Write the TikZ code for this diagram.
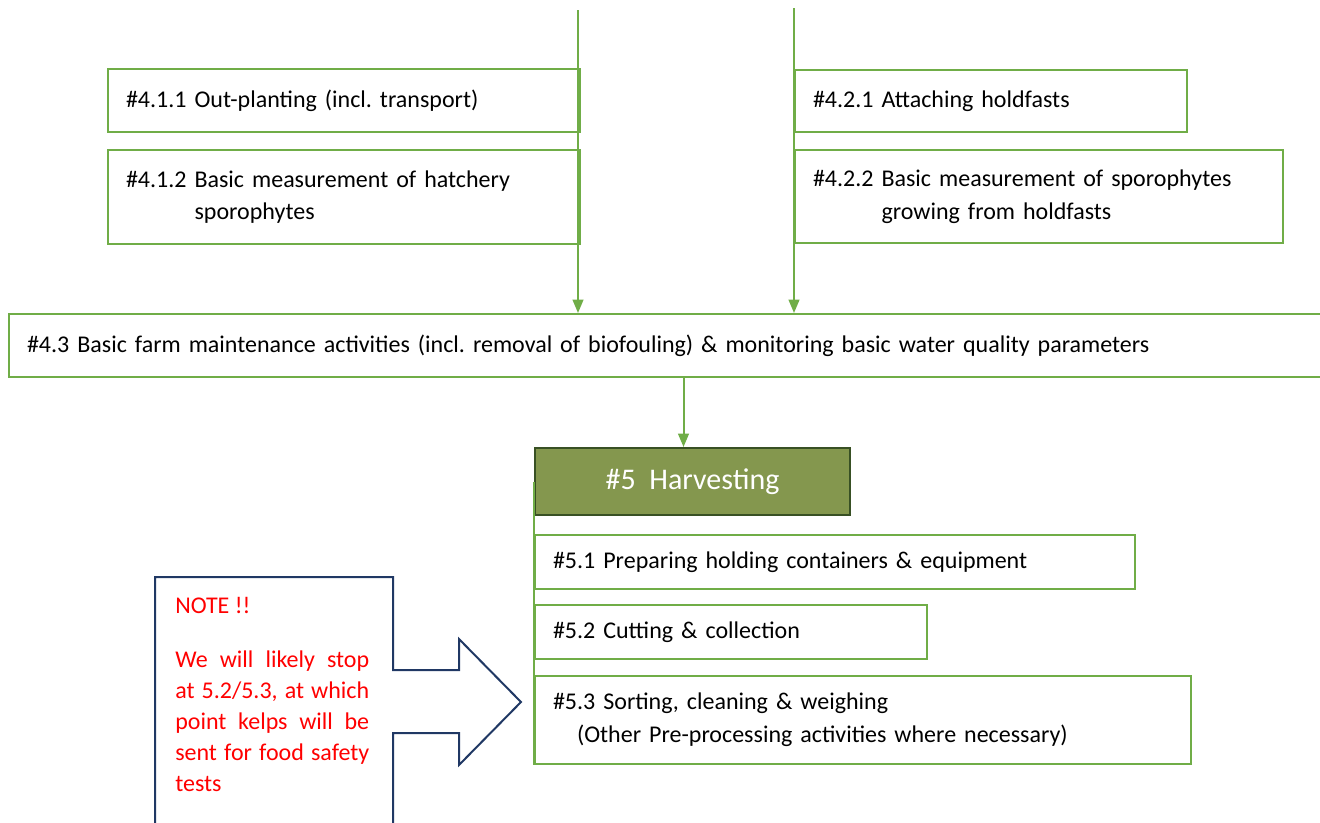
\documentclass[tikz,border=0pt]{standalone}
\usepackage{fontspec}
\setmainfont{Carlito}
\usetikzlibrary{arrows.meta}
\definecolor{leaf}{RGB}{112,173,71}
\definecolor{olive}{RGB}{132,151,78}
\definecolor{darkolive}{RGB}{56,80,36}
\definecolor{navy}{RGB}{32,56,100}

\begin{document}
\frenchspacing
\begin{tikzpicture}[x=0.75pt,y=-0.75pt,
        stage/.style={draw=leaf,line width=1.5pt,fill=white,anchor=north west,
            inner xsep=13.5pt,inner ysep=0pt,align=left,
            font=\fontsize{18}{24.5}\selectfont},
        flow/.style={draw=leaf,line width=1.5pt,-{Triangle[width=8pt,length=10pt]}}]
    \useasboundingbox (0,0) rectangle (1320,822);
    \clip (0,0) rectangle (1320,822);

    % Stage 4.1 and 4.2
    \coordinate (inL) at (578,10);
    \coordinate (inR) at (794,8);
    \node[stage,text width=327pt,minimum height=47.25pt] (s411) at (107,68)
        {\#4.1.1 Out-planting (incl. transport)};
    \node[stage,text width=327pt,minimum height=70.5pt] (s412) at (107,149)
        {\#4.1.2 Basic measurement of hatchery\\\hphantom{\#4.1.2 }sporophytes};
    \node[stage,text width=267pt,minimum height=46.5pt] (s421) at (794,69)
        {\#4.2.1 Attaching holdfasts};
    \node[stage,text width=339pt,minimum height=69.75pt] (s422) at (794,149)
        {\#4.2.2 Basic measurement of sporophytes\\\hphantom{\#4.2.2 }growing from holdfasts};

    % Stage 4.3
    \node[stage,text width=958pt,minimum height=47.25pt] (s43) at (8,313)
        {\#4.3 Basic farm maintenance activities (incl. removal of biofouling) \& monitoring basic water quality parameters};

    % Stage 5
    \node[draw=darkolive,line width=1.5pt,fill=olive,anchor=north west,
        minimum width=236.25pt,minimum height=50.25pt,text=white,
        font=\fontsize{22.5}{26}\selectfont] (s5) at (534,447) {\#5\ \ Harvesting};
    \node[stage,text width=423pt,minimum height=40.5pt] (s51) at (534,534)
        {\#5.1 Preparing holding containers \& equipment};
    \node[stage,text width=267pt,minimum height=40.5pt] (s52) at (534,604)
        {\#5.2 Cutting \& collection};
    \node[stage,text width=465pt,minimum height=66pt] (s53) at (534,675)
        {\#5.3 Sorting, cleaning \& weighing\\\hspace*{18pt}(Other Pre-processing activities where necessary)};
    \coordinate (spine) at (534,482);

    % Connectors
    \draw[flow] (inL) -- (inL |- s43.north);
    \draw[flow] (inR) -- (inR |- s43.north);
    \draw[flow] (s43.south -| s5.north) ++(-9,0) coordinate (out43) (out43) -- (out43 |- s5.north);
    \draw[draw=leaf,line width=1.5pt] (spine) -- (s53.south west);

    % Note
    \draw[navy,line width=1.5pt] (155,830) -- (155,577) -- (393,577) -- (393,670)
        -- (459,670) -- (459,639) -- (521,702) -- (459,765) -- (459,733)
        -- (393,733) -- (393,830);
    \node[anchor=north west,text width=145.5pt,align=justify,inner sep=0pt,text=red,
        font=\fontsize{18}{23.25}\selectfont] (note) at (175,597)
        {NOTE !!\par\vspace{17pt}We will likely stop\linebreak at 5.2/5.3, at which\linebreak
        point kelps will be\linebreak sent for food safety\linebreak tests};
\end{tikzpicture}
\end{document}
